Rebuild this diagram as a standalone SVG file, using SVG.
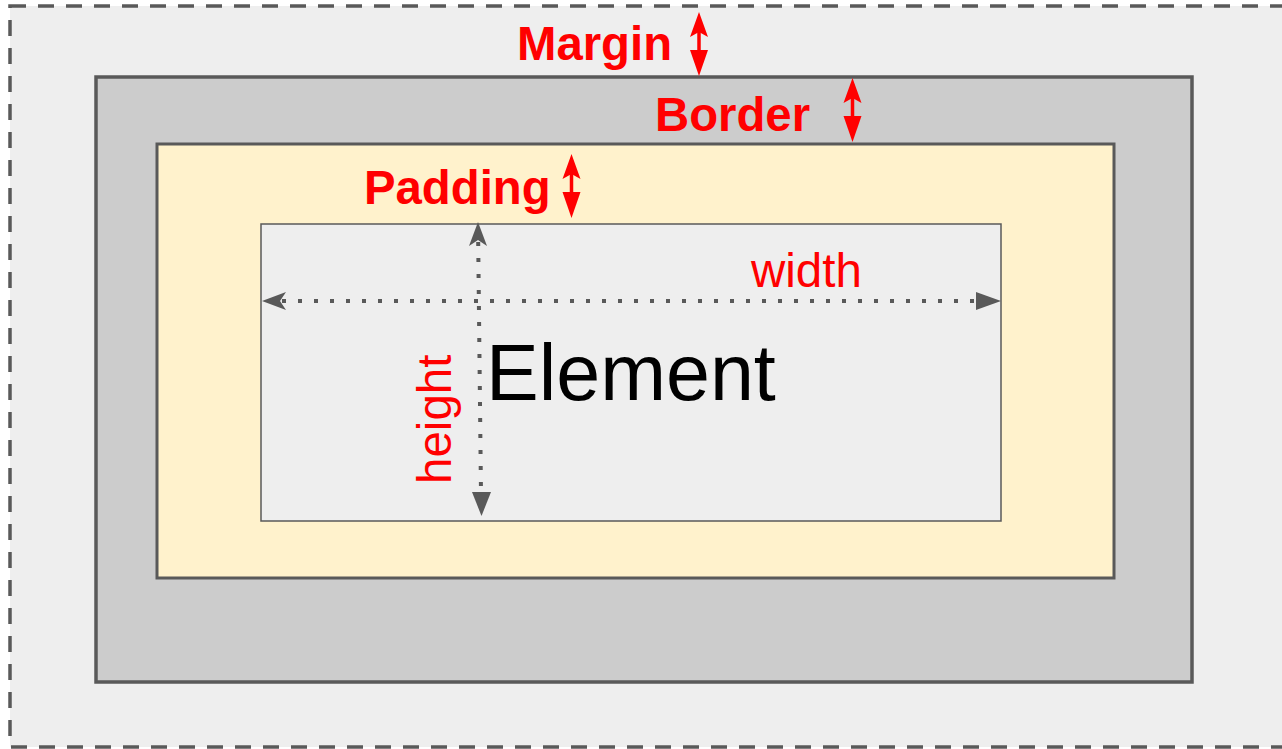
<svg xmlns="http://www.w3.org/2000/svg" width="1282" height="749" viewBox="0 0 1282 749">
<style>
.box{stroke:#595959;}
.red{font-family:"Liberation Sans",Arial,sans-serif;fill:#ff0000;}
.lbl{font-weight:bold;font-size:47.3px;}
.dim{font-size:47.5px;}
.el{font-family:"Liberation Sans",Arial,sans-serif;font-size:79px;fill:#000000;}
.dot{stroke:#595959;stroke-width:4;stroke-dasharray:4 12;fill:none;}
.gh{fill:#595959;}
.rl{stroke:#ff0000;stroke-width:3.5;}
.rh{fill:#ff0000;}
</style>
<rect width="1282" height="749" fill="#ffffff"/>
<g id="margin">
<rect class="box" x="10" y="6" width="1290" height="741" fill="#eeeeee" stroke-width="3.5" stroke-dasharray="16 12"/>
</g>
<g id="border">
<rect class="box" x="96" y="77" width="1096" height="605" fill="#cccccc" stroke-width="3.5"/>
</g>
<g id="padding">
<rect class="box" x="157" y="144" width="957" height="434" fill="#fff2cc" stroke-width="3"/>
</g>
<g id="element">
<rect class="box" x="261" y="224" width="740" height="297" fill="#eeeeee" stroke-width="1.5"/>
<text class="el" x="486" y="400">Element</text>
</g>
<g id="labels">
<text class="red lbl" x="517" y="60">Margin</text>
<text class="red lbl" x="655" y="131">Border</text>
<text class="red lbl" x="364" y="204">Padding</text>
<text class="red dim" x="751" y="287">width</text>
<text class="red dim" transform="translate(451,484) rotate(-90)" x="0" y="0">height</text>
</g>
<g id="connectors">
<!-- width dimension -->
<line class="dot" x1="282" y1="301" x2="978" y2="301"/>
<path class="gh" d="M262,301 L286,292 L280,301 L286,310 Z"/>
<path class="gh" d="M1001,301 L976,292 L976,310 Z"/>
<!-- height dimension -->
<line class="dot" x1="478.2" y1="242" x2="481" y2="494"/>
<path class="gh" d="M478,222 L469,246 L478,240 L487,246 Z"/>
<path class="gh" d="M481.5,516 L472,492 L491,492 Z"/>
<!-- margin arrow -->
<line class="rl" x1="699" y1="30" x2="699" y2="52"/>
<path class="rh" d="M699,12 L690,37 L699,32 L708,37 Z"/>
<path class="rh" d="M699,76 L690,50 L708,50 Z"/>
<!-- border arrow -->
<line class="rl" x1="852.5" y1="96" x2="852.5" y2="118"/>
<path class="rh" d="M852.5,78 L843.5,103 L852.5,98 L861.5,103 Z"/>
<path class="rh" d="M852.5,142 L843.5,116 L861.5,116 Z"/>
<!-- padding arrow -->
<line class="rl" x1="571.5" y1="172" x2="571.5" y2="194"/>
<path class="rh" d="M571.5,154 L562.5,179 L571.5,174 L580.5,179 Z"/>
<path class="rh" d="M571.5,218 L562.5,192 L580.5,192 Z"/>
</g>
</svg>
